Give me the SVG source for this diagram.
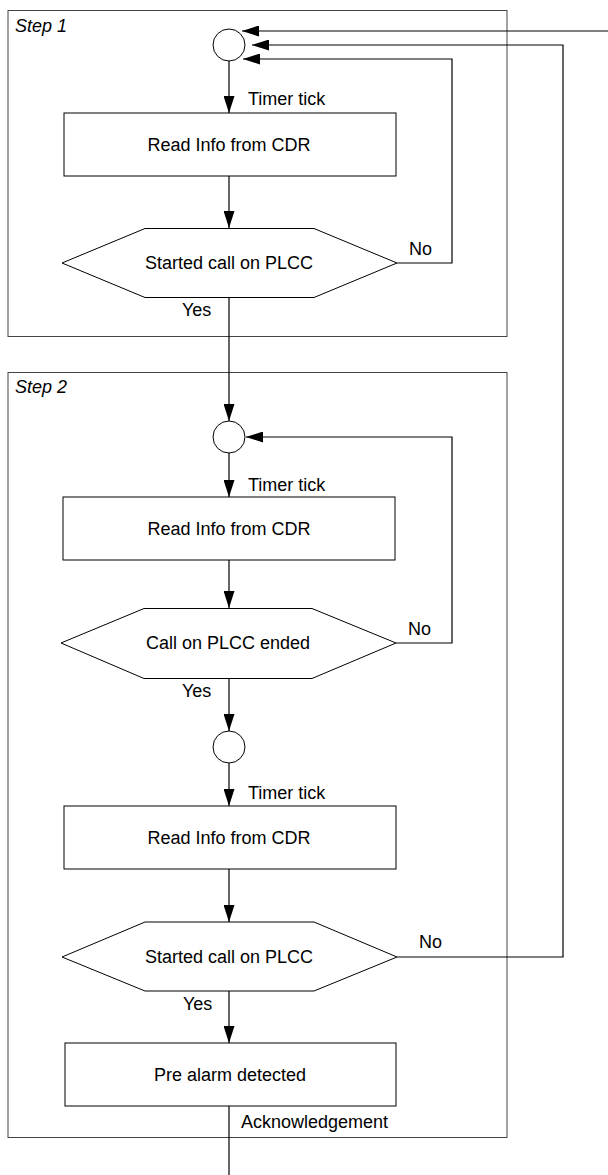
<svg xmlns="http://www.w3.org/2000/svg" width="608" height="1175" viewBox="0 0 608 1175">
<style>
.frame{fill:none;stroke:#444;stroke-width:1}
.shape{fill:#fff;stroke:#000;stroke-width:1}
.conn{fill:none;stroke:#000;stroke-width:1.2}
text{font-family:"Liberation Sans",Arial,sans-serif;font-size:18px;fill:#000}
.c{text-anchor:middle}
.it{font-style:italic}
</style>
<defs>
<marker id="arr" markerUnits="userSpaceOnUse" markerWidth="17" markerHeight="11" refX="17" refY="5.5" orient="auto">
<path d="M0,0 L17,5.5 L0,11 z" fill="#000"/>
</marker>
</defs>
<rect fill="#fff" x="0" y="0" width="608" height="1175"/>
<g id="step1">
<rect class="frame" x="8" y="10.5" width="499" height="326"/>
<text class="it" x="15" y="32">Step 1</text>
</g>
<g id="step2">
<rect class="frame" x="8" y="372.5" width="499" height="765"/>
<text class="it" x="15" y="393">Step 2</text>
</g>
<g id="connectors">
<path class="conn" d="M229,61 V113" marker-end="url(#arr)"/>
<path class="conn" d="M229,176 V228" marker-end="url(#arr)"/>
<path class="conn" d="M397,263 H452 V59 H243" marker-end="url(#arr)"/>
<path class="conn" d="M229,297 V421" marker-end="url(#arr)"/>
<path class="conn" d="M229,453 V497" marker-end="url(#arr)"/>
<path class="conn" d="M229,560 V608" marker-end="url(#arr)"/>
<path class="conn" d="M396,643 H452 V437 H246" marker-end="url(#arr)"/>
<path class="conn" d="M229,679 V731" marker-end="url(#arr)"/>
<path class="conn" d="M229,763 V806" marker-end="url(#arr)"/>
<path class="conn" d="M229,869 V922" marker-end="url(#arr)"/>
<path class="conn" d="M397,957 H563 V45 H252" marker-end="url(#arr)"/>
<path class="conn" d="M229,991 V1043" marker-end="url(#arr)"/>
<path class="conn" d="M229,1106 V1175"/>
<path class="conn" d="M608,31 H242" marker-end="url(#arr)"/>
<text x="248" y="105">Timer tick</text>
<text x="409" y="255">No</text>
<text x="182" y="316">Yes</text>
<text x="248" y="491">Timer tick</text>
<text x="408" y="635">No</text>
<text x="182" y="697">Yes</text>
<text x="248" y="799">Timer tick</text>
<text x="419" y="948">No</text>
<text x="183" y="1010">Yes</text>
<text x="241" y="1128">Acknowledgement</text>
</g>
<g id="start1">
<circle class="shape" cx="229" cy="45" r="16"/>
</g>
<g id="read1">
<rect class="shape" x="64" y="113" width="332" height="63"/>
<text class="c" x="229" y="151">Read Info from CDR</text>
</g>
<g id="dec1">
<polygon class="shape" points="62,263 145,228.5 314,228.5 397,263 314,297.5 145,297.5"/>
<text class="c" x="229" y="269">Started call on PLCC</text>
</g>
<g id="start2">
<circle class="shape" cx="229" cy="437" r="16"/>
</g>
<g id="read2">
<rect class="shape" x="63" y="497" width="332" height="63"/>
<text class="c" x="229" y="535">Read Info from CDR</text>
</g>
<g id="dec2">
<polygon class="shape" points="61,643 144,608.5 312,608.5 396,643 312,678.5 144,678.5"/>
<text class="c" x="228" y="649">Call on PLCC ended</text>
</g>
<g id="start3">
<circle class="shape" cx="229" cy="747" r="16"/>
</g>
<g id="read3">
<rect class="shape" x="64" y="806" width="332" height="63"/>
<text class="c" x="229" y="844">Read Info from CDR</text>
</g>
<g id="dec3">
<polygon class="shape" points="62,957 145,922 314,922 397,957 314,991 145,991"/>
<text class="c" x="229" y="963">Started call on PLCC</text>
</g>
<g id="alarm">
<rect class="shape" x="65" y="1043" width="331" height="63"/>
<text class="c" x="230" y="1081">Pre alarm detected</text>
</g>
</svg>
